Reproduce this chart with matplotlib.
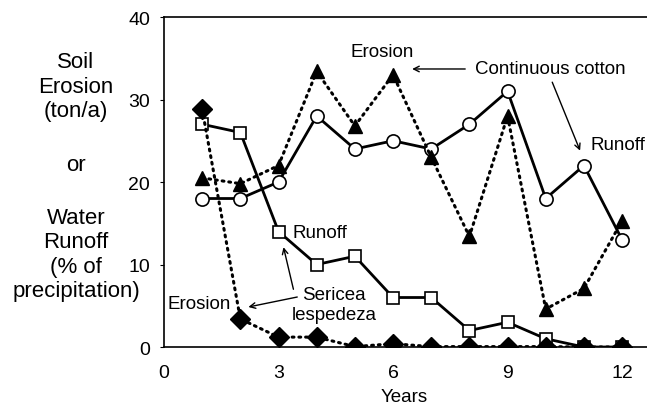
import matplotlib

matplotlib.use("Agg")
import matplotlib.pyplot as plt

plt.rcParams["font.family"] = ["Liberation Sans", "DejaVu Sans"]

years = [1, 2, 3, 4, 5, 6, 7, 8, 9, 10, 11, 12]
cotton_runoff = [18, 18, 20, 28, 24, 25, 24, 27, 31, 18, 22, 13]
cotton_erosion = [20.5, 19.8, 22, 33.4, 26.8, 33, 23, 13.4, 28, 4.6, 7.1, 15.3]
sericea_runoff = [27, 26, 14, 10, 11, 6, 6, 2, 3, 1, 0, 0]
sericea_erosion = [28.8, 3.4, 1.2, 1.2, 0.05, 0.4, 0.05, 0.05, 0.05, 0.05, 0, 0]

xticks = [0, 3, 6, 9, 12]
yticks = [0, 10, 20, 30, 40]

ylabel_lines = ["Soil", "Erosion", "(ton/a)", "or", "Water", "Runoff",
                "(% of", "precipitation)"]
ylabel_rows = [0, 1, 2, 4.17, 6.33, 7.33, 8.33, 9.33]

W, H = 647, 414
fig = plt.figure(figsize=(W / 100, H / 100), dpi=100)
ax = fig.add_axes([0.2535, 0.1594, 0.767, 0.7971])

dotted = (0, (0.6, 1.6))
ax.plot(years, cotton_runoff, color="black", lw=2, marker="o", ms=9.5,
        mfc="white", mec="black", mew=1.2, zorder=2)
ax.plot(years, sericea_runoff, color="black", lw=2, marker="s", ms=9,
        mfc="white", mec="black", mew=1.2, zorder=2)
ax.plot(years, cotton_erosion, color="black", lw=2.2, linestyle=dotted,
        dash_capstyle="round", marker="^", ms=10, mfc="black", mec="black",
        zorder=3)
ax.plot(years, sericea_erosion, color="black", lw=2.2, linestyle=dotted,
        dash_capstyle="round", marker="D", ms=10, mfc="black", mec="black",
        zorder=3)

ax.set_xlim(0, 13)
ax.set_ylim(0, 40)
ax.set_xticks(xticks)
ax.set_yticks(yticks)
ax.tick_params(axis="x", length=0, pad=12, labelsize=14)
ax.tick_params(axis="y", length=3, direction="out", pad=7, labelsize=14)
ax.spines["right"].set_visible(False)
for s in ("left", "bottom", "top"):
    ax.spines[s].set_linewidth(1.2)

fig.text(0.624, 0.04, "Years", ha="center", va="center", fontsize=13.5)

# y label, one line at a time (Excel-style stacked title)
for line, row in zip(ylabel_lines, ylabel_rows):
    y_px = 63 + 24.5 * row
    fig.text(76 / W, 1 - y_px / H, line, ha="center", va="center",
             fontsize=16)

ann = dict(fontsize=13.5, ha="left", va="center")
arrow = dict(arrowstyle="->", color="black", lw=1, shrinkA=0, shrinkB=0)

# continuous cotton labels
ax.text(4.88, 35.8, "Erosion", **ann)
ax.text(8.15, 33.8, "Continuous cotton", **ann)
ax.annotate("", xy=(6.5, 33.7), xytext=(7.89, 33.7), arrowprops=arrow)
ax.annotate("", xy=(10.9, 23.8), xytext=(10.17, 32.1), arrowprops=arrow)
ax.text(11.16, 24.6, "Runoff", **ann)

# sericea lespedeza labels
ax.text(3.36, 13.9, "Runoff", **ann)
ax.text(4.45, 5.15, "Sericea\nlespedeza", fontsize=13.5, ha="center",
        va="center", linespacing=1.2)
ax.annotate("", xy=(3.13, 12.1), xytext=(3.39, 7.0), arrowprops=arrow)
ax.annotate("", xy=(2.21, 4.85), xytext=(3.49, 6.06), arrowprops=arrow)
ax.text(0.09, 5.3, "Erosion", **ann)

fig.savefig("out.png", dpi=100)
